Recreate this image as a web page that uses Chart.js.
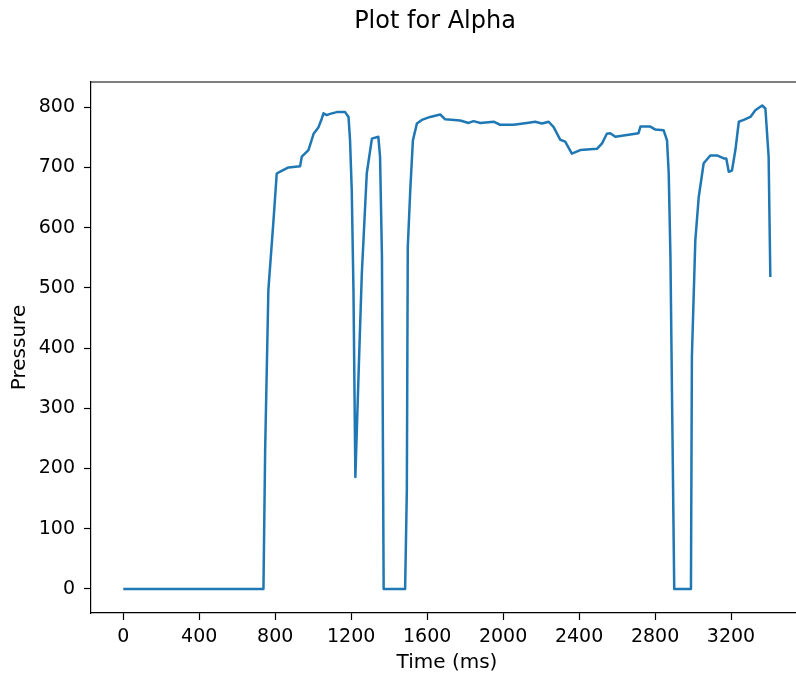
<!DOCTYPE html>
<html>
<head>
<meta charset="utf-8">
<title>Plot for Alpha</title>
<script src="https://cdn.jsdelivr.net/npm/chart.js@4.4.1/dist/chart.umd.min.js"></script>
<style>
  html, body { margin: 0; padding: 0; background: #fff; overflow: hidden; }
  #wrap { width: 870px; height: 680px; position: relative; }
</style>
</head>
<body>
<div id="wrap"><canvas id="chart"></canvas></div>
<script>
// Time in ms and pressure
const timeMs = [
    0, 738, 747, 764, 790, 808, 826, 870, 931, 940, 975, 1002, 1028, 1045, 1054,
    1071, 1089, 1124, 1168, 1186, 1194, 1203, 1212, 1222, 1239, 1256, 1282, 1309,
    1343, 1352, 1362, 1371, 1484, 1493, 1498, 1511, 1525, 1546, 1572, 1616, 1669,
    1695, 1774, 1818, 1844, 1880, 1950, 1984, 2055, 2125, 2169, 2204, 2240, 2266,
    2301, 2327, 2362, 2406, 2494, 2521, 2546, 2564, 2591, 2652, 2713, 2723, 2775,
    2802, 2845, 2863, 2872, 2881, 2889, 2901, 2989, 2994, 3012, 3030, 3056, 3091,
    3126, 3162, 3175, 3188, 3205, 3223, 3241, 3267, 3302, 3328, 3364, 3381, 3398, 3407
];
const pressure = [
    0, 0, 231, 497, 608, 690, 693, 700, 702, 718, 729, 756, 767, 781, 790,
    787, 789, 792, 792, 784, 745, 662, 496, 186, 358, 524, 690, 748,
    751, 718, 552, 0, 0, 164, 568, 662, 745, 773, 779, 784, 788,
    780, 778, 774, 777, 774, 776, 771, 771, 774, 776, 773, 776, 767,
    746, 743, 723, 729, 731, 740, 756, 757, 751, 754, 757, 768, 768,
    763, 762, 745, 690, 552, 330, 0, 0, 386, 579, 651, 707, 720,
    720, 715, 715, 693, 695, 729, 776, 779, 784, 795, 803, 798, 718, 518
];
const xTickValues = [0, 400, 800, 1200, 1600, 2000, 2400, 2800, 3200];
const yTickValues = [0, 100, 200, 300, 400, 500, 600, 700, 800];

const FONT = 'DejaVu Sans';
const INK = '#000';

// matplotlib-style top spine (right spine falls outside the window)
const framePlugin = {
    id: 'frame',
    afterDraw(chart) {
        const { ctx, chartArea } = chart;
        ctx.save();
        ctx.strokeStyle = INK;
        ctx.lineWidth = 1.2;
        ctx.beginPath();
        ctx.moveTo(chartArea.left, chartArea.top);
        ctx.lineTo(chartArea.right, chartArea.top);
        ctx.stroke();
        ctx.restore();
    }
};

const points = timeMs.map((t, i) => ({ x: t, y: pressure[i] }));
const plainLabel = (value) => String(value);

new Chart(document.getElementById('chart'), {
    type: 'scatter',
    data: {
        datasets: [{
            label: 'Pressure',
            data: points,
            showLine: true,
            borderColor: '#1f77b4',
            borderWidth: 2.5,
            borderJoinStyle: 'round',
            pointRadius: 0,
            tension: 0,
            fill: false
        }]
    },
    options: {
        responsive: true,
        maintainAspectRatio: false,
        animation: false,
        layout: { padding: 0 },
        plugins: {
            legend: { display: false },
            tooltip: { enabled: false },
            title: {
                display: true,
                text: 'Plot for Alpha',
                color: INK,
                font: { family: FONT, size: 24, weight: 'normal', lineHeight: 1.2 },
                padding: { top: 7, bottom: 46.2 }
            }
        },
        scales: {
            x: {
                type: 'linear',
                min: -170,
                max: 3579,
                afterBuildTicks: (scale) => { scale.ticks = xTickValues.map(v => ({ value: v })); },
                afterFit: (scale) => { scale.height = 67; },
                border: { display: true, color: INK, width: 1.2 },
                grid: { drawOnChartArea: false, drawTicks: true, tickLength: 7, tickColor: INK, tickWidth: 1.2 },
                ticks: { color: INK, font: { family: FONT, size: 19 }, padding: 6, maxRotation: 0, autoSkip: false, callback: plainLabel },
                title: {
                    display: true,
                    text: 'Time (ms)',
                    color: INK,
                    font: { family: FONT, size: 20 },
                    padding: { top: 2, bottom: 5 }
                }
            },
            y: {
                type: 'linear',
                min: -40,
                max: 842,
                afterBuildTicks: (scale) => { scale.ticks = yTickValues.map(v => ({ value: v })); },
                afterFit: (scale) => { scale.width = 91; },
                border: { display: true, color: INK, width: 1.2 },
                grid: { drawOnChartArea: false, drawTicks: true, tickLength: 7, tickColor: INK, tickWidth: 1.2 },
                ticks: { color: INK, font: { family: FONT, size: 19 }, padding: 9, autoSkip: false, callback: plainLabel },
                title: {
                    display: true,
                    text: 'Pressure',
                    color: INK,
                    font: { family: FONT, size: 20 },
                    padding: { top: 8, bottom: 4 }
                }
            },
            // empty right-hand axis: reserves the figure margin right of the plot
            yRight: {
                type: 'linear',
                position: 'right',
                min: -40,
                max: 842,
                afterFit: (scale) => { scale.width = 67; },
                border: { display: false },
                grid: { display: false },
                ticks: { display: false }
            }
        }
    },
    plugins: [framePlugin]
});
</script>
</body>
</html>
